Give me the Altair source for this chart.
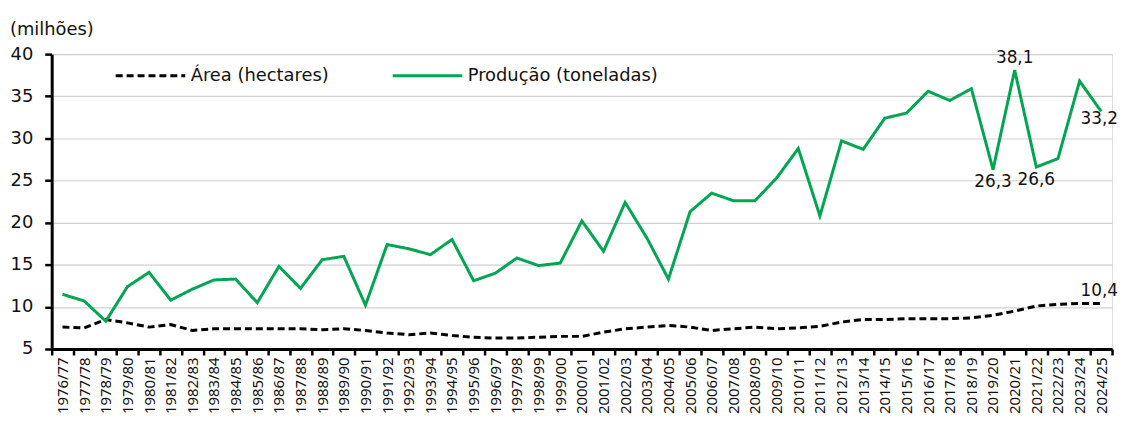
import altair as alt
import pandas as pd

periods = ["1976/77", "1977/78", "1978/79", "1979/80", "1980/81", "1981/82", "1982/83",
           "1983/84", "1984/85", "1985/86", "1986/87", "1987/88", "1988/89", "1989/90",
           "1990/91", "1991/92", "1992/93", "1993/94", "1994/95", "1995/96", "1996/97",
           "1997/98", "1998/99", "1999/00", "2000/01", "2001/02", "2002/03", "2003/04",
           "2004/05", "2005/06", "2006/07", "2007/08", "2008/09", "2009/10", "2010/11",
           "2011/12", "2012/13", "2013/14", "2014/15", "2015/16", "2016/17", "2017/18",
           "2018/19", "2019/20", "2020/21", "2021/22", "2022/23", "2023/24", "2024/25"]

producao = [11.5, 10.7, 8.3, 12.4, 14.1, 10.8, 12.1, 13.2, 13.3, 10.5,
            14.8, 12.2, 15.6, 16.0, 10.2, 17.4, 16.9, 16.2, 18.0, 13.1,
            14.0, 15.8, 14.9, 15.2, 20.2, 16.6, 22.4, 18.2, 13.3, 21.3,
            23.5, 22.6, 22.6, 25.3, 28.8, 20.8, 29.7, 28.7, 32.4, 33.0,
            35.6, 34.5, 35.9, 26.3, 38.1, 26.6, 27.6, 36.8, 33.2]

area = [7.6, 7.5, 8.5, 8.1, 7.6, 7.9, 7.2, 7.4, 7.4, 7.4,
        7.4, 7.4, 7.3, 7.4, 7.2, 6.9, 6.7, 6.9, 6.6, 6.4,
        6.3, 6.3, 6.4, 6.5, 6.5, 7.0, 7.4, 7.6, 7.8, 7.6,
        7.2, 7.4, 7.6, 7.4, 7.5, 7.7, 8.2, 8.5, 8.5, 8.6,
        8.6, 8.6, 8.7, 9.0, 9.5, 10.1, 10.3, 10.4, 10.4]

series_names = ["Área (hectares)", "Produção (toneladas)"]
series_colors = ["#000000", "#00A651"]

label_periods = ["2020/21", "2019/20", "2021/22", "2024/25", "2024/25"]
label_values = [38.1, 26.3, 26.6, 33.2, 10.4]
label_texts = ["38,1", "26,3", "26,6", "33,2", "10,4"]
label_pos = ["above", "below", "below", "endbelow", "endabove"]

FONT = "DejaVu Sans"
XFONT = "Noto Sans"
TXT = "#111111"

rows = []
for p, a, v in zip(periods, area, producao):
    rows.append({"period": p, "serie": series_names[0], "value": a})
    rows.append({"period": p, "serie": series_names[1], "value": v})
df = pd.DataFrame(rows)

labels_df = pd.DataFrame({"period": label_periods, "value": label_values,
                          "text": label_texts, "pos": label_pos})

xenc = alt.X("period:N", sort=periods,
             scale=alt.Scale(type="band", paddingInner=0, paddingOuter=0),
             bandPosition=0.5,
             axis=alt.Axis(title=None, labelAngle=270, labelFontSize=15, labelFont=XFONT,
                           labelColor=TXT, labelPadding=2,
                           domainColor="#000000", domainWidth=3,
                           tickColor="#000000", tickWidth=2.5, tickSize=6,
                           tickBand="extent", grid=False))
yenc = alt.Y("value:Q",
             scale=alt.Scale(domain=[5, 40], nice=False, zero=False),
             axis=alt.Axis(title=None, values=[5, 10, 15, 20, 25, 30, 35, 40],
                           labelFontSize=18, labelFont=FONT, labelColor=TXT,
                           labelPadding=12,
                           domainColor="#000000", domainWidth=3,
                           tickColor="#000000", tickWidth=2.5, tickSize=7,
                           grid=True, gridColor="#d0d0d0", gridWidth=1.2))

leg = alt.Legend(title=None, orient="none", direction="horizontal",
                 legendX=63, legendY=-15,
                 symbolType="stroke", symbolSize=4900,
                 symbolStrokeWidth=3, labelFontSize=18,
                 labelFont=FONT, labelColor=TXT,
                 labelOffset=4, columnPadding=57,
                 labelLimit=400)

lines = alt.Chart(df).mark_line(strokeWidth=3).encode(
    x=xenc,
    y=yenc,
    color=alt.Color("serie:N", sort=series_names,
                    scale=alt.Scale(domain=series_names, range=series_colors),
                    legend=leg),
    strokeDash=alt.StrokeDash("serie:N", sort=series_names,
                              scale=alt.Scale(domain=series_names, range=[[7, 4], [1, 0]]),
                              legend=leg),
    order=alt.Order("serie:N"),
)

xl = alt.X("period:N", sort=periods, bandPosition=0.5)


def label_layer(pos, **kw):
    return alt.Chart(labels_df).transform_filter(alt.datum.pos == pos).mark_text(
        font=FONT, fontSize=17, color=TXT, **kw
    ).encode(x=xl, y="value:Q", text="text:N")


above = label_layer("above", baseline="bottom", dy=-3)
below = label_layer("below", baseline="top", dy=5)
endbelow = label_layer("endbelow", baseline="middle", dy=8, dx=-2)
endabove = label_layer("endabove", baseline="bottom", dy=-4, dx=-2)

chart = alt.layer(lines, above, below, endbelow, endabove).properties(
    width=1068, height=297,
    title=alt.TitleParams("(milhões)", anchor="start", frame="group", dx=-42, dy=4,
                          fontSize=18, fontWeight="normal", font=FONT, color=TXT, offset=4),
    autosize=alt.AutoSizeParams(type="none"),
    padding={"left": 44, "top": 45, "right": 8, "bottom": 66},
).configure_view(stroke=None).configure(background="white")

chart.save("out.html", embed_options={"renderer": "svg", "actions": False})
